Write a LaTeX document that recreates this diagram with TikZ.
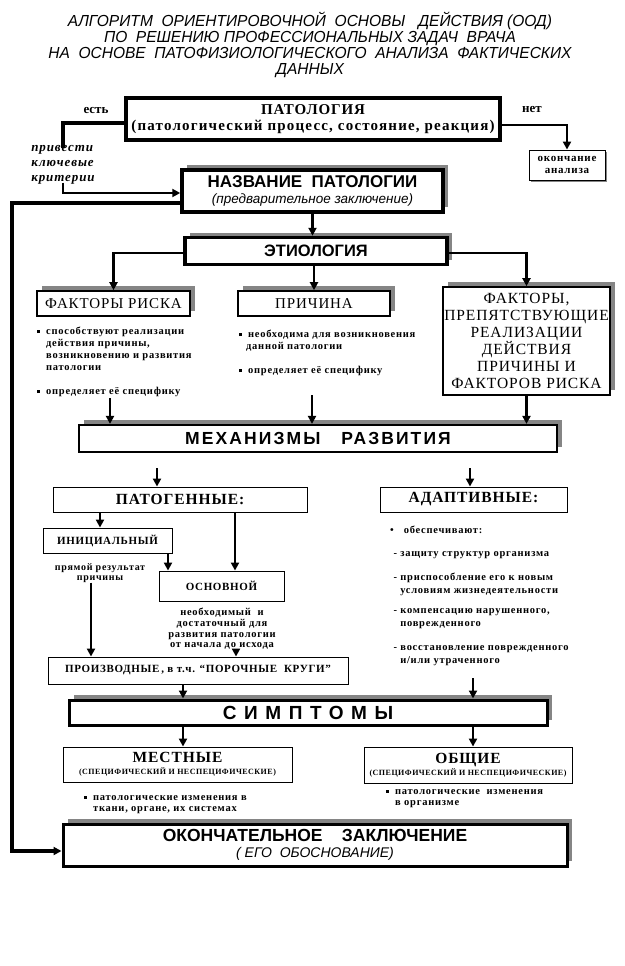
\documentclass[tikz,border=0pt]{standalone}
\usepackage{fontspec}
\setmainfont{Liberation Serif}
\setsansfont{Liberation Sans}
\newfontfamily\titlefont[FakeStretch=0.97]{Liberation Sans}
\newfontfamily\boxserif[LetterSpace=6]{Liberation Serif}
\newfontfamily\notefont[LetterSpace=7]{Liberation Serif}
\newfontfamily\spacedsans[LetterSpace=12]{Liberation Sans}
\newfontfamily\widesans[LetterSpace=40]{Liberation Sans}
\usetikzlibrary{arrows.meta,shadows}
\definecolor{shadowgray}{HTML}{858585}
\newcommand{\sqb}{\makebox[9pt][l]{\rule[1.5pt]{3pt}{3pt}}}
\newcommand{\ind}{\hspace*{9pt}}

\begin{document}
\begin{tikzpicture}[x=1pt, y=-1pt,
  thickbox/.style={draw, line width=3.5pt, fill=white, inner sep=0pt, align=center},
  midbox/.style={draw, line width=1.6pt, fill=white, inner sep=0pt, align=center},
  thinbox/.style={draw, line width=0.9pt, fill=white, inner sep=0pt, align=center},
  shade/.style={drop shadow={shadow xshift=5pt, shadow yshift=5pt, fill=shadowgray, opacity=1}},
  smallshade/.style={drop shadow={shadow xshift=1.5pt, shadow yshift=-1.5pt, fill=shadowgray, opacity=1}},
  arrow/.style={-{Triangle[length=8pt,width=8pt]}, line width=2.5pt},
  link/.style={line width=3.5pt},
  note/.style={inner sep=0pt, align=left, font=\notefont\bfseries\fontsize{10.5}{12}\selectfont}
]
  \useasboundingbox (0,0) rectangle (624,966);

  \node[align=center, font=\titlefont\itshape\fontsize{16}{16}\selectfont] (title) at (310,45)
    {АЛГОРИТМ\ \ ОРИЕНТИРОВОЧНОЙ\ \ ОСНОВЫ\ \ \ ДЕЙСТВИЯ\ (ООД)\\
     ПО\ \ РЕШЕНИЮ ПРОФЕССИОНАЛЬНЫХ\ ЗАДАЧ\ \ ВРАЧА\\
     НА\ \ ОСНОВЕ\ \ ПАТОФИЗИОЛОГИЧЕСКОГО\ \ АНАЛИЗА\ \ ФАКТИЧЕСКИХ\\
     ДАННЫХ};

  \node[thickbox, minimum width=374pt, minimum height=42pt,
        font=\boxserif\bfseries\fontsize{15}{16}\selectfont] (pat) at (313,119)
    {ПАТОЛОГИЯ\\{\addfontfeature{LetterSpace=8}(патологический процесс, состояние, реакция)}};
  \node[font=\bfseries\fontsize{13}{14}\selectfont] (yes) at (96,110) {есть};
  \node[font=\bfseries\fontsize{13}{14}\selectfont] (no) at (532,110) {нет};
  \node[note, align=left, font=\notefont\bfseries\itshape\fontsize{13}{15}\selectfont] (crit) at (63,165)
    {привести\\ключевые\\критерии};
  \node[thinbox, smallshade, minimum width=76pt, minimum height=30pt,
        font=\notefont\bfseries\fontsize{11}{12}\selectfont] (endbox) at (567,165)
    {окончание\\анализа};

  \node[thickbox, shade, minimum width=261pt, minimum height=42pt] (name) at (312.5,191)
    {\sffamily\bfseries\fontsize{17}{20}\selectfont НАЗВАНИЕ\ \ ПАТОЛОГИИ\\[4pt]
     \sffamily\itshape\fontsize{13.5}{14}\selectfont(предварительное заключение)};

  \node[thickbox, shade, minimum width=262pt, minimum height=27pt,
        font=\sffamily\bfseries\fontsize{16.5}{17}\selectfont] (etio) at (316,251) {ЭТИОЛОГИЯ};

  \node[midbox, shade, minimum width=153pt, minimum height=25pt,
        font=\boxserif\fontsize{15}{16}\selectfont] (risk) at (113.5,303.5) {ФАКТОРЫ РИСКА};
  \node[midbox, shade, minimum width=152pt, minimum height=25pt,
        font=\boxserif\fontsize{15}{16}\selectfont] (cause) at (314,303.5) {ПРИЧИНА};
  \node[midbox, shade, minimum width=167pt, minimum height=108pt,
        font=\boxserif\fontsize{15.5}{17}\selectfont] (prevent) at (526.5,341)
    {ФАКТОРЫ,\\ПРЕПЯТСТВУЮЩИЕ\\РЕАЛИЗАЦИИ\\ДЕЙСТВИЯ\\ПРИЧИНЫ И\\ФАКТОРОВ РИСКА};

  \node[note, anchor=north west] (risknote) at (37,327)
    {\sqb способствуют реализации\\
     \ind действия причины,\\
     \ind возникновению и развития\\
     \ind патологии\\[12pt]
     \sqb определяет её специфику};
  \node[note, anchor=north west] (causenote) at (239,330)
    {\sqb необходима для возникновения\\
     \hspace*{7pt}данной патологии\\[12pt]
     \sqb определяет её специфику};
  \coordinate (riskend) at (110,398);
  \coordinate (causeend) at (312,395);

  \node[midbox, shade, line width=2.2pt, minimum width=478pt, minimum height=27pt,
        font=\spacedsans\bfseries\fontsize{17.5}{19}\selectfont] (mech) at (318,438.5)
    {МЕХАНИЗМЫ\ \ \ РАЗВИТИЯ};

  \coordinate (mleft) at (157,468);
  \coordinate (mright) at (470,468);
  \node[thinbox, minimum width=254pt, minimum height=25pt,
        font=\boxserif\bfseries\fontsize{15.5}{16}\selectfont] (patho) at (180,499.5) {ПАТОГЕННЫЕ:};
  \node[thinbox, minimum width=187pt, minimum height=25pt,
        font=\boxserif\bfseries\fontsize{15.5}{16}\selectfont] (adapt) at (473.5,499.5) {АДАПТИВНЫЕ:};
  \node[thinbox, minimum width=129pt, minimum height=25pt,
        font=\boxserif\bfseries\fontsize{11}{12}\selectfont] (init) at (107.5,540.5) {ИНИЦИАЛЬНЫЙ};
  \node[note, align=center, font=\notefont\bfseries\fontsize{10}{10}\selectfont] (initnote) at (100,573)
    {прямой результат\\причины};
  \node[thinbox, minimum width=125pt, minimum height=30pt,
        font=\boxserif\bfseries\fontsize{11}{12}\selectfont] (basic) at (221.5,586) {ОСНОВНОЙ};
  \node[note, align=center, font=\notefont\bfseries\fontsize{10.5}{10.7}\selectfont] (basicnote) at (222,629)
    {необходимый\ \ и\\достаточный для\\развития патологии\\от начала до исхода};
  \node[thinbox, minimum width=300pt, minimum height=27pt,
        font=\boxserif\bfseries\fontsize{11}{12}\selectfont] (deriv) at (198,670.5)
    {ПРОИЗВОДНЫЕ\,, в т.ч. “ПОРОЧНЫЕ\ \ КРУГИ”};

  \node[note, anchor=north west, font=\notefont\bfseries\fontsize{10.5}{13}\selectfont] (adaptnote) at (390,526)
    {•\hspace{10pt}обеспечивают:\\[10pt]
     \ - защиту структур организма\\[11pt]
     \ - приспособление его к новым\\
     \ \ \ условиям жизнедеятельности\\[7pt]
     \ - компенсацию нарушенного,\\
     \ \ \ поврежденного\\[11pt]
     \ - восстановление поврежденного\\
     \ \ \ и/или утраченного};
  \coordinate (adaptend) at (473,678);

  \node[midbox, shade, line width=3pt, minimum width=478pt, minimum height=25pt,
        font=\widesans\bfseries\fontsize{19}{20}\selectfont] (sympt) at (308,712.5) {СИМПТОМЫ};

  \node[thinbox, minimum width=229pt, minimum height=35pt] (local) at (177.5,764.5)
    {\boxserif\bfseries\fontsize{15.5}{16}\selectfont МЕСТНЫЕ\\
     \boxserif\bfseries\fontsize{8}{10}\selectfont(СПЕЦИФИЧЕСКИЙ И НЕСПЕЦИФИЧЕСКИЕ)};
  \node[thinbox, minimum width=208pt, minimum height=36pt] (general) at (468,765)
    {\boxserif\bfseries\fontsize{15.5}{16}\selectfont ОБЩИЕ\\
     \boxserif\bfseries\fontsize{8}{10}\selectfont(СПЕЦИФИЧЕСКИЙ И НЕСПЕЦИФИЧЕСКИЕ)};
  \node[note, anchor=north west, font=\notefont\bfseries\fontsize{10.5}{11}\selectfont] (localnote) at (84,795)
    {\sqb патологические изменения в\\\ind ткани, органе, их системах};
  \node[note, anchor=north west, font=\notefont\bfseries\fontsize{10.5}{11}\selectfont] (generalnote) at (386,789)
    {\sqb патологические\ \ изменения\\\ind в организме};

  \node[thickbox, shade, line width=3pt, minimum width=504pt, minimum height=42pt] (final) at (315,845)
    {\sffamily\bfseries\fontsize{17.5}{19}\selectfont ОКОНЧАТЕЛЬНОЕ\ \ \ \ ЗАКЛЮЧЕНИЕ\\[4pt]
     \sffamily\itshape\fontsize{14}{16}\selectfont(\ ЕГО\ \ ОБОСНОВАНИЕ)};
  \coordinate (rail) at (12,500);

  \draw[link] ([yshift=-4pt]pat.west) -| ([yshift=-3pt]crit.north);
  \draw[arrow, line width=2pt] ([yshift=2pt]crit.south) |- ([yshift=-2pt]name.west);
  \draw[link, arrow] ([yshift=-6pt]pat.east) -| (endbox.north);
  \draw[arrow, line width=4pt] ([yshift=-12pt]name.west) -| (rail) |- ([yshift=-6pt]final.west);
  \draw[arrow] (name.south) -- (name.south |- etio.north);
  \draw[arrow] ([yshift=-2pt]etio.west) -| (risk.north);
  \draw[arrow] (etio.south -| cause.north) -- (cause.north);
  \draw[arrow] ([yshift=-2pt]etio.east) -| (prevent.north);
  \draw[arrow] (riskend) -- (riskend |- mech.north);
  \draw[arrow] (causeend) -- (causeend |- mech.north);
  \draw[arrow] (prevent.south) -- (prevent.south |- mech.north);
  \draw[arrow] (mleft) -- (mleft |- patho.north);
  \draw[arrow] (mright) -- (mright |- adapt.north);
  \draw[arrow] ([xshift=-80pt]patho.south) -- ([xshift=-7.5pt]init.north);
  \draw[arrow] ([xshift=55pt]patho.south) -- ([xshift=13.5pt]basic.north);
  \draw[arrow] ([xshift=60.5pt]init.south) -- ([xshift=-53.5pt]basic.north);
  \draw[arrow] ([xshift=-9pt]initnote.south) -- ([xshift=-9pt]initnote.south |- deriv.north);
  \draw[arrow] ([xshift=14pt]basicnote.south) -- ([xshift=14pt]basicnote.south |- deriv.north);
  \draw[arrow] ([xshift=-15pt]deriv.south) -- ([xshift=-15pt]deriv.south |- sympt.north);
  \draw[arrow] (adaptend) -- (adaptend |- sympt.north);
  \draw[arrow] ([xshift=-125pt]sympt.south) -- ([xshift=-125pt]sympt.south |- local.north);
  \draw[arrow] ([xshift=165pt]sympt.south) -- ([xshift=165pt]sympt.south |- general.north);
\end{tikzpicture}
\end{document}
